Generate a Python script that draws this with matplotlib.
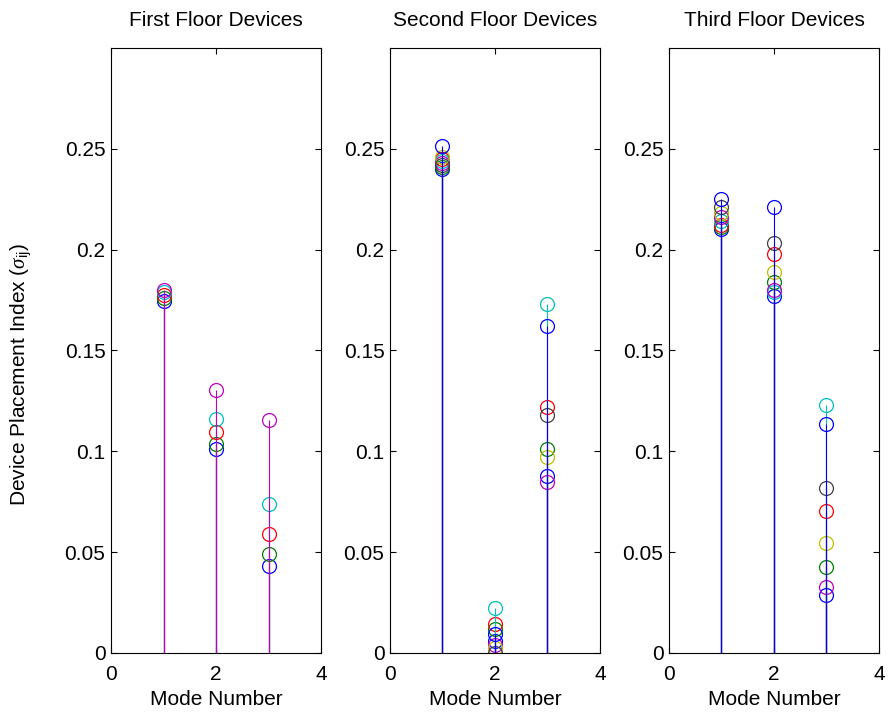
# Device placement index stem plots, one panel per floor
import numpy as np
import matplotlib.pyplot as plt

plt.rcParams['font.family'] = ['Liberation Sans', 'DejaVu Sans']
plt.rcParams['mathtext.fontset'] = 'custom'
plt.rcParams['mathtext.rm'] = 'Liberation Sans'
plt.rcParams['mathtext.it'] = 'Liberation Serif:italic'

modes = [1, 2, 3]
titles = ['First Floor Devices', 'Second Floor Devices', 'Third Floor Devices']

# MATLAB default stem colour order: b g r c m y k b
colors = [(0, 0, 1), (0, 0.5, 0), (1, 0, 0), (0, 0.75, 0.75),
          (0.75, 0, 0.75), (0.75, 0.75, 0), (0.25, 0.25, 0.25), (0, 0, 1)]

# first floor, 5 devices (values at modes 1, 2, 3)
floor1 = [
    [0.1746, 0.1012, 0.0429],
    [0.1760, 0.1037, 0.0490],
    [0.1775, 0.1095, 0.0590],
    [0.1790, 0.1161, 0.0739],
    [0.1800, 0.1302, 0.1153],
]

# second floor, 8 devices
floor2 = [
    [0.2400, 0.0060, 0.0880],
    [0.2410, 0.0120, 0.1010],
    [0.2450, 0.0144, 0.1220],
    [0.2440, 0.0225, 0.1730],
    [0.2430, 0.0040, 0.0850],
    [0.2460, 0.0026, 0.0970],
    [0.2420, 0.0002, 0.1180],
    [0.2515, 0.0094, 0.1620],
]

# third floor, 8 devices
floor3 = [
    [0.2100, 0.1770, 0.0287],
    [0.2110, 0.1840, 0.0424],
    [0.2120, 0.1980, 0.0706],
    [0.2140, 0.1790, 0.1228],
    [0.2160, 0.1800, 0.0328],
    [0.2180, 0.1890, 0.0543],
    [0.2210, 0.2034, 0.0819],
    [0.2250, 0.2210, 0.1137],
]

floors = [floor1, floor2, floor3]

fig = plt.figure(figsize=(8.89, 7.17), dpi=100)
lefts = [0.1249, 0.4387, 0.7525]

for k in range(3):
    ax = fig.add_axes([lefts[k], 0.0893, 0.2362, 0.8438])
    for i, vals in enumerate(floors[k]):
        c = colors[i]
        ml, sl, bl = ax.stem(modes, vals, basefmt=' ')
        plt.setp(sl, color=c, linewidth=0.8)
        plt.setp(ml, color=c, marker='o', markersize=10,
                 markerfacecolor='none', markeredgewidth=0.9)
    ax.set_xlim(0, 4)
    ax.set_ylim(0, 0.3)
    ax.set_xticks([0, 2, 4])
    ax.set_yticks([0, 0.05, 0.1, 0.15, 0.2, 0.25])
    ax.set_yticklabels(['0', '0.05', '0.1', '0.15', '0.2', '0.25'])
    ax.tick_params(direction='in', top=True, right=True, length=4,
                   labelsize=15, pad=4)
    ax.tick_params(axis='x', pad=9)
    ax.set_title(titles[k], fontsize=15, pad=16)
    ax.set_xlabel('Mode Number', fontsize=15, labelpad=4)
    if k == 0:
        ax.set_ylabel(r'Device Placement Index ($\sigma_{\mathrm{ij}}$)',
                      fontsize=15, labelpad=22, y=0.46)

plt.savefig('out.png', dpi=100)
